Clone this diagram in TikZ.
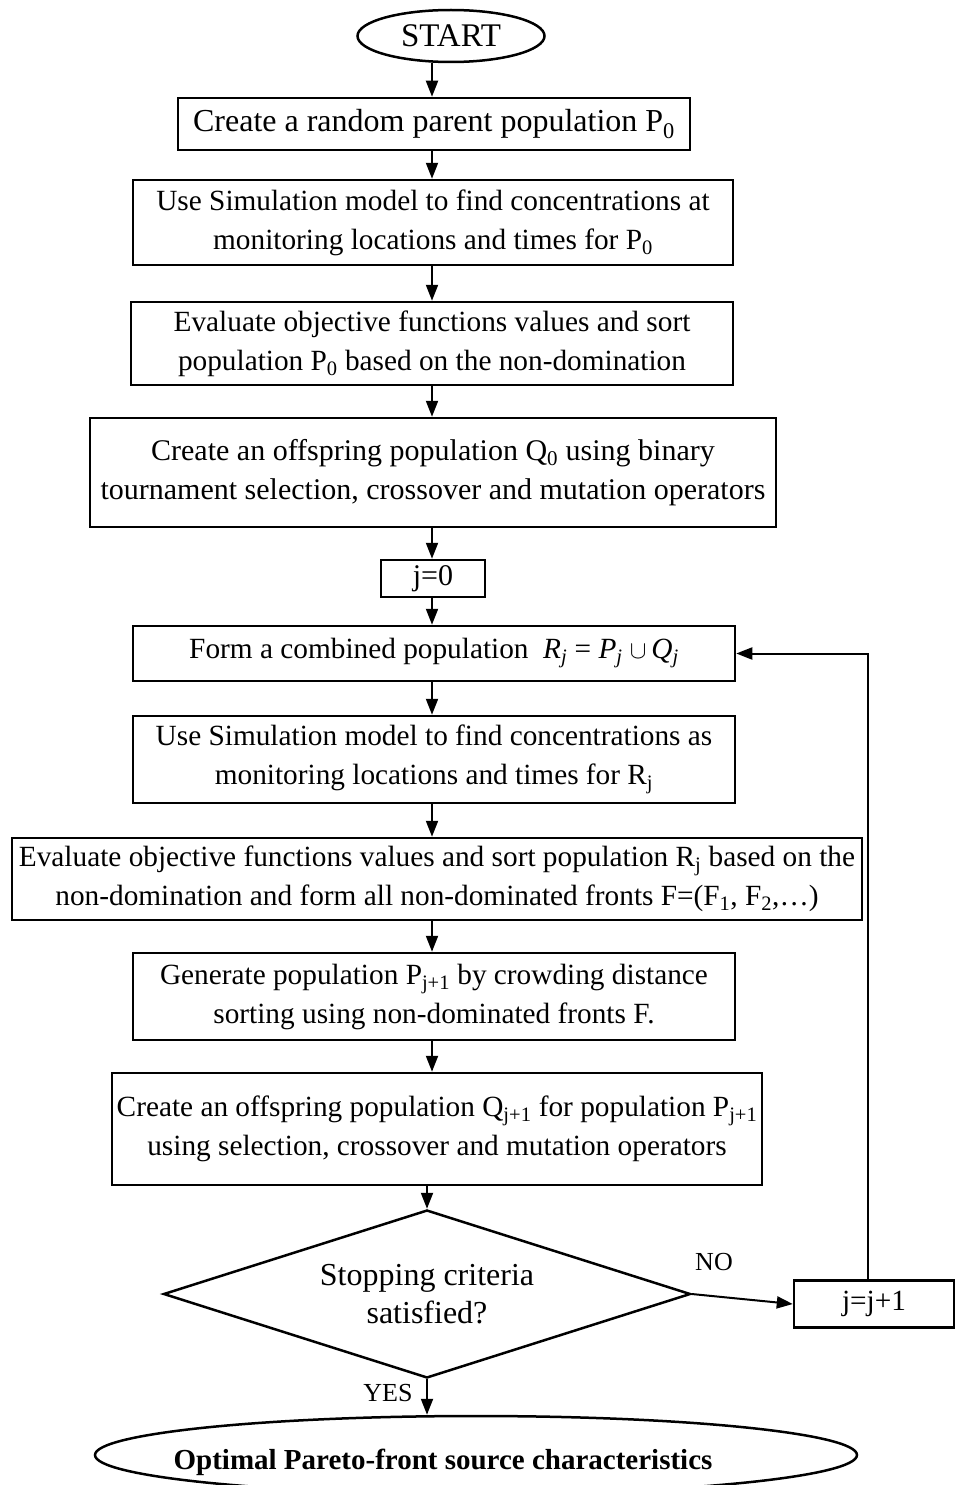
\documentclass[tikz,border=0pt]{standalone}
\usepackage{fontspec}
\setmainfont{Liberation Serif}
\usetikzlibrary{shapes.geometric,arrows.meta}
\begin{document}
\begin{tikzpicture}[x=1pt,y=-1pt,
  every node/.style={font=\fontsize{29.3}{39}\selectfont},
  box/.style={draw, line width=2.5pt, align=center, inner sep=0pt},
  arr/.style={line width=2pt, -{Triangle[length=16pt,width=12pt]}},
  lbl/.style={font=\fontsize{26}{30}\selectfont, inner sep=0pt}]
\useasboundingbox (0,0) rectangle (955,1485);
\clip (0,0) rectangle (955,1485);
\coordinate (ax) at (432,0);
\node[ellipse, draw, line width=2.5pt, minimum width=187pt, minimum height=52pt, inner sep=0pt, font=\fontsize{33}{39}\selectfont] (start) at (451,36) {START};
\node[box, minimum width=512pt, minimum height=52pt, font=\fontsize{32}{39}\selectfont] (b1) at (434,124) {Create a random parent population P\textsubscript{0}};
\node[box, minimum width=600pt, minimum height=85pt] (b2) at (433,222.5) {Use Simulation model to find concentrations at\\monitoring locations and times for P\textsubscript{0}};
\node[box, minimum width=602pt, minimum height=83pt] (b3) at (432,343.5) {Evaluate objective functions values and sort\\population P\textsubscript{0} based on the non-domination};
\node[box, minimum width=686pt, minimum height=109pt, font=\fontsize{30}{39}\selectfont] (b4) at (433,472.5) {Create an offspring population Q\textsubscript{0} using binary\\tournament selection, crossover and mutation operators};
\node[box, minimum width=104pt, minimum height=37pt, font=\fontsize{30}{39}\selectfont] (b5) at (433,578.5) {j=0};
\node[box, minimum width=602pt, minimum height=55pt] (b6) at (434,653.5) {Form a combined population \ {\itshape R\textsubscript{j}} = {\itshape P\textsubscript{j}} $\cup$\,{\itshape Q\textsubscript{j}}};
\node[box, minimum width=602pt, minimum height=87pt] (b7) at (434,759.5) {Use Simulation model to find concentrations as\\monitoring locations and times for R\textsubscript{j}};
\node[box, minimum width=850pt, minimum height=82pt] (b8) at (437,879) {Evaluate objective functions values and sort population R\textsubscript{j} based on the\\non-domination and form all non-dominated fronts F=(F\textsubscript{1}, F\textsubscript{2},\dots)};
\node[box, minimum width=602pt, minimum height=87pt] (b9) at (434,996.5) {Generate population P\textsubscript{j+1} by crowding distance\\sorting using non-dominated fronts F.};
\node[box, minimum width=650pt, minimum height=112pt] (b10) at (437,1129) {Create an offspring population Q\textsubscript{j+1} for population P\textsubscript{j+1}\\using selection, crossover and mutation operators};
\node[diamond, aspect=3.14, draw, line width=2.5pt, minimum width=527pt, minimum height=168pt, inner sep=0pt, align=center, font=\fontsize{32}{38}\selectfont] (dia) at (427,1294) {Stopping criteria\\satisfied?};
\node[box, minimum width=160pt, minimum height=47pt] (jj) at (874,1304) {j=j+1};
\node[ellipse, draw, line width=2.5pt, minimum width=762pt, minimum height=78pt, inner sep=0pt,
  label={[xshift=-33pt, yshift=-7pt, font=\fontsize{29}{33}\selectfont\bfseries]center:Optimal Pareto-front source characteristics}] (end) at (476,1455) {};
\draw[arr] (start.south -| ax) -- (b1.north -| ax);
\draw[arr] (b1.south -| ax) -- (b2.north -| ax);
\draw[arr] (b2.south -| ax) -- (b3.north -| ax);
\draw[arr] (b3.south -| ax) -- (b4.north -| ax);
\draw[arr] (b4.south -| ax) -- (b5.north -| ax);
\draw[arr] (b5.south -| ax) -- (b6.north -| ax);
\draw[arr] (b6.south -| ax) -- (b7.north -| ax);
\draw[arr] (b7.south -| ax) -- (b8.north -| ax);
\draw[arr] (b8.south -| ax) -- (b9.north -| ax);
\draw[arr] (b9.south -| ax) -- (b10.north -| ax);
\draw[arr] (b10.south -| dia.north) -- (dia.north);
\draw[arr] (dia.east) -- (jj.west);
\draw[arr] ([xshift=-6pt]jj.north) |- (b6.east);
\draw[arr] (dia.south) -- (dia.south |- end.north);
\node[lbl] (no) at (714,1262) {NO};
\node[lbl] (yes) at (388,1393) {YES};
\end{tikzpicture}
\end{document}
